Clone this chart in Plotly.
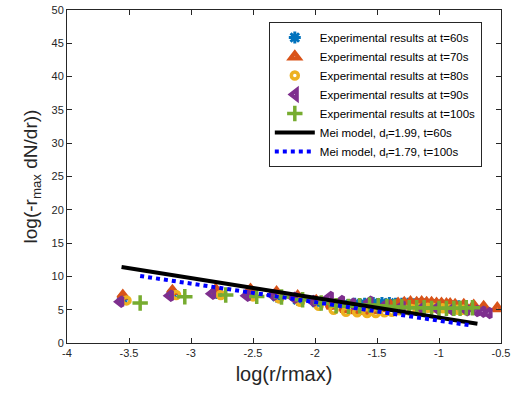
import plotly.graph_objects as go

# ---- data ----
x60 = [-3.55, -3.15, -2.79, -2.52, -2.31, -2.14, -1.99, -1.87, -1.77, -1.68, -1.60, -1.53, -1.46, -1.40,
       -1.35, -1.30, -1.25, -1.20, -1.16, -1.12, -1.08, -1.04, -1.00, -0.97, -0.93, -0.90, -0.87, -0.84]
y60 = [6.6, 7.4, 7.5, 7.3, 7.0, 6.5, 6.1, 5.9, 5.8, 5.9, 5.9, 6.0, 6.0, 6.0,
       5.9, 5.9, 5.9, 5.8, 5.8, 5.8, 5.7, 5.7, 5.6, 5.6, 5.6, 5.5, 5.5, 5.5]

x70 = [-3.55, -3.15, -2.80, -2.52, -2.31, -2.14, -1.99, -1.87, -1.76, -1.67, -1.59, -1.52, -1.45, -1.39,
       -1.33, -1.28, -1.23, -1.18, -1.14, -1.10, -1.06, -1.02, -0.98, -0.94, -0.91, -0.87, -0.80, -0.72,
       -0.64, -0.53]
y70 = [7.1, 7.8, 8.0, 8.0, 7.6, 7.0, 6.3, 5.6, 5.1, 4.9, 4.8, 4.9, 5.2, 5.6,
       5.9, 6.0, 6.1, 6.0, 6.1, 6.0, 6.0, 5.9, 5.9, 5.8, 5.8, 5.7, 5.7, 5.6,
       5.4, 5.2]

x80 = [-3.52, -3.12, -2.76, -2.50, -2.29, -2.12, -1.97, -1.85, -1.75, -1.66, -1.58, -1.51, -1.44, -1.38,
       -1.32, -1.27, -1.22, -1.17, -1.13, -1.09, -1.05, -1.01, -0.97, -0.93, -0.89, -0.85, -0.81]
y80 = [6.4, 7.2, 7.2, 7.0, 6.7, 6.2, 5.6, 5.0, 4.7, 4.6, 4.5, 4.5, 4.6, 4.7,
       4.9, 5.0, 5.1, 5.2, 5.2, 5.3, 5.3, 5.2, 5.2, 5.1, 5.1, 5.0, 5.0]

x90 = [-3.57, -3.17, -2.83, -2.55, -2.34, -2.17, -2.02, -1.88, -1.79, -1.70, -1.56, -1.43, -1.30, -1.14,
       -1.02, -0.90, -0.78, -0.70, -0.65, -0.60]
y90 = [6.2, 7.1, 7.4, 7.1, 7.2, 6.8, 6.3, 6.9, 6.3, 5.9, 6.2, 5.7, 5.5, 5.2,
       5.2, 5.0, 4.9, 4.8, 4.7, 4.5]

x100 = [-3.41, -3.05, -2.72, -2.47, -2.27, -2.10, -1.95, -1.83, -1.73, -1.64, -1.56, -1.49, -1.42, -1.36,
        -1.30, -1.24, -1.18, -1.12, -1.06, -1.00, -0.94, -0.88, -0.83, -0.78, -0.73]
y100 = [6.0, 6.95, 7.2, 7.0, 6.9, 6.5, 6.0, 5.6, 5.5, 5.6, 5.7, 5.6, 5.5, 5.4,
        5.4, 5.3, 5.3, 5.3, 5.2, 5.2, 5.2, 5.2, 5.2, 5.3, 5.3]

mei1_x = [-3.56, -0.69]
mei1_y = [11.4, 2.9]
mei2_x = [-3.41, -0.73]
mei2_y = [10.06, 2.6]

xticks = [-4, -3.5, -3, -2.5, -2, -1.5, -1, -0.5]
xlabels = ["-4", "-3.5", "-3", "-2.5", "-2", "-1.5", "-1", "-0.5"]
yticks = [0, 5, 10, 15, 20, 25, 30, 35, 40, 45, 50]

FONT = "Liberation Sans, Arial, sans-serif"
AX = "#262626"

fig = go.Figure()

def pts(x, y, name, symbol, color, size, lw):
    fig.add_trace(go.Scatter(
        x=x, y=y, mode="markers", name=name,
        marker=dict(symbol=symbol, size=size, color=color,
                    line=dict(color=color, width=lw)),
    ))

pts(x60, y60, "Experimental results at t=60s", "asterisk-open", "#0072BD", 10, 3)
pts(x70, y70, "Experimental results at t=70s", "triangle-up-open", "#D95319", 8, 4)
pts(x80, y80, "Experimental results at t=80s", "circle-open", "#EDB120", 7, 3.5)
pts(x90, y90, "Experimental results at t=90s", "triangle-left-open", "#7E2F8E", 8, 4)
pts(x100, y100, "Experimental results at t=100s", "cross-thin-open", "#77AC30", 11, 3.5)

fig.add_trace(go.Scatter(x=mei1_x, y=mei1_y, mode="lines",
                         name="Mei model, d<sub>f</sub>=1.99, t=60s",
                         line=dict(color="black", width=4)))
fig.add_trace(go.Scatter(x=mei2_x, y=mei2_y, mode="lines",
                         name="Mei model, d<sub>f</sub>=1.79, t=100s",
                         line=dict(color="blue", width=4, dash="dot")))

axis_common = dict(
    showline=True, linecolor=AX, linewidth=1, mirror="ticks",
    ticks="inside", ticklen=5, tickcolor=AX, showgrid=False, zeroline=False,
    tickfont=dict(family=FONT, size=11, color=AX), automargin=False,
)

fig.update_layout(
    width=511, height=404,
    margin=dict(l=67, r=10, t=10, b=61),
    paper_bgcolor="white", plot_bgcolor="white",
    font=dict(family=FONT, color=AX),
    showlegend=True,
    legend=dict(
        x=0.465, y=0.964, xanchor="left", yanchor="top",
        bgcolor="white", bordercolor=AX, borderwidth=1,
        font=dict(family=FONT, size=11.5, color="black"),
        itemwidth=40, tracegroupgap=0,
    ),
    xaxis=dict(range=[-4, -0.5], tickvals=xticks, ticktext=xlabels,
               title=dict(text="log(r/rmax)", font=dict(family=FONT, size=20, color=AX), standoff=8),
               **axis_common),
    yaxis=dict(range=[0, 50], tickvals=yticks,
               title=dict(text="log(-r<sub>max</sub> dN/dr))", font=dict(family=FONT, size=19, color=AX), standoff=8),
               **axis_common),
)

fig.write_html("out.html")
